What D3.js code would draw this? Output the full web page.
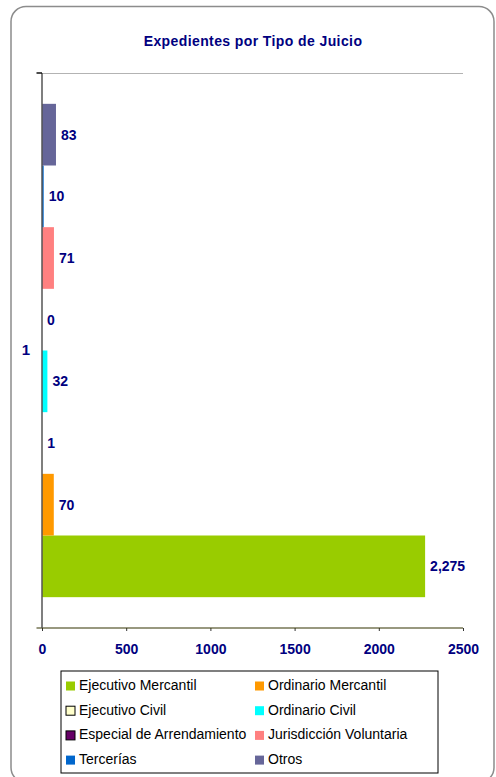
<!DOCTYPE html>
<html>
<head>
<meta charset="utf-8">
<script src="https://cdn.jsdelivr.net/npm/d3@7"></script>
<style>
  body { margin: 0; background: #fff; }
  text { font-family: "Liberation Sans", Arial, sans-serif; }
</style>
</head>
<body>
<div id="chart"></div>
<script>
// data
const CATEGORIES = ["1"];
const SERIES = ["Ejecutivo Mercantil", "Ordinario Mercantil", "Ejecutivo Civil", "Ordinario Civil",
                "Especial de Arrendamiento", "Jurisdicción Voluntaria", "Tercerías", "Otros"];
const VALUES = [2275, 70, 1, 32, 0, 71, 10, 83];
const COLORS = ["#99cc00", "#ff9900", "#ffffcc", "#00ffff", "#660066", "#ff8080", "#0066cc", "#666699"];
const OUTLINED = ["Ejecutivo Civil", "Especial de Arrendamiento"];
const X_TICKS = [0, 500, 1000, 1500, 2000, 2500];

const WIDTH = 496, HEIGHT = 777;
const PLOT = { left: 42, right: 463, top: 73, bottom: 628 };
const NAVY = "#000080";

const svg = d3.select("#chart")
    .append("svg")
    .attr("width", WIDTH)
    .attr("height", HEIGHT);

// rounded frame
svg.append("rect")
    .attr("x", 11).attr("y", 6.5)
    .attr("width", 483).attr("height", 776)
    .attr("rx", 15).attr("ry", 15)
    .attr("fill", "#fff")
    .attr("stroke", "#8c8c8c")
    .attr("stroke-width", 1.5);

// title
svg.append("text")
    .attr("x", 253).attr("y", 46)
    .attr("text-anchor", "middle")
    .attr("font-size", 14).attr("font-weight", "bold")
    .attr("letter-spacing", 0.4)
    .attr("fill", NAVY)
    .text("Expedientes por Tipo de Juicio");

const x = d3.scaleLinear()
    .domain([0, 2500])
    .range([PLOT.left, PLOT.right]);

const y = d3.scaleBand()
    .domain(CATEGORIES)
    .range([PLOT.top, PLOT.bottom])
    .paddingInner(0)
    .paddingOuter(0.0625);

// first series sits at the bottom
const ySeries = d3.scaleBand()
    .domain(SERIES.slice().reverse())
    .range([0, y.bandwidth()]);

// plot top border
svg.append("line")
    .attr("x1", PLOT.left).attr("x2", PLOT.right)
    .attr("y1", PLOT.top + 0.5).attr("y2", PLOT.top + 0.5)
    .attr("stroke", "#b3b3b3");

const rows = SERIES.map((s, i) => ({ cat: CATEGORIES[0], name: s, value: VALUES[i], color: COLORS[i] }));

const g = svg.append("g");

g.selectAll("rect.bar")
    .data(rows)
    .enter().append("rect")
    .attr("class", "bar")
    .attr("x", x(0))
    .attr("y", d => y(d.cat) + ySeries(d.name))
    .attr("width", d => x(d.value) - x(0))
    .attr("height", ySeries.bandwidth())
    .attr("fill", d => d.color);

g.selectAll("text.val")
    .data(rows)
    .enter().append("text")
    .attr("class", "val")
    .attr("x", d => x(d.value) + 5)
    .attr("y", d => y(d.cat) + ySeries(d.name) + ySeries.bandwidth() / 2)
    .attr("dy", "0.36em")
    .attr("font-size", 14).attr("font-weight", "bold")
    .attr("fill", NAVY)
    .text(d => d3.format(",")(d.value));

// x axis
const xAxis = svg.append("g")
    .attr("transform", `translate(0,${PLOT.bottom})`)
    .call(d3.axisBottom(x).tickValues(X_TICKS).tickSize(3).tickPadding(13).tickFormat(d3.format("d")));
xAxis.select(".domain").remove();
xAxis.selectAll(".tick line").attr("stroke", "#333");
xAxis.selectAll("text")
    .attr("font-size", 14).attr("font-weight", "bold")
    .attr("font-family", "Liberation Sans, Arial, sans-serif")
    .attr("fill", NAVY);
svg.append("line")
    .attr("x1", 36.5).attr("x2", PLOT.right)
    .attr("y1", PLOT.bottom).attr("y2", PLOT.bottom)
    .attr("stroke", "#333300").attr("stroke-width", 1.2);

// y axis
const yAxis = svg.append("g")
    .attr("transform", `translate(${PLOT.left},0)`)
    .call(d3.axisLeft(y).tickSize(0).tickPadding(12));
yAxis.select(".domain").remove();
yAxis.selectAll("text")
    .attr("font-size", 15).attr("font-weight", "bold")
    .attr("font-family", "Liberation Sans, Arial, sans-serif")
    .attr("fill", NAVY);
svg.append("line")
    .attr("x1", PLOT.left).attr("x2", PLOT.left)
    .attr("y1", PLOT.top).attr("y2", PLOT.bottom)
    .attr("stroke", "#555").attr("stroke-width", 1.5);
svg.append("line")
    .attr("x1", 36.5).attr("x2", PLOT.left)
    .attr("y1", PLOT.top).attr("y2", PLOT.top)
    .attr("stroke", "#111").attr("stroke-width", 1.5);

// legend
const legend = svg.append("g");
legend.append("rect")
    .attr("x", 61).attr("y", 671)
    .attr("width", 377).attr("height", 102)
    .attr("fill", "#fff")
    .attr("stroke", "#000");

const items = legend.selectAll("g.item")
    .data(rows)
    .enter().append("g")
    .attr("class", "item")
    .attr("transform", (d, i) => `translate(${i % 2 === 0 ? 66 : 255},${690 + Math.floor(i / 2) * 24.7})`);

items.append("rect")
    .attr("x", 0).attr("y", -8.5)
    .attr("width", 9).attr("height", 9)
    .attr("fill", d => d.color)
    .attr("stroke", d => OUTLINED.includes(d.name) ? "#000" : "none");

items.append("text")
    .attr("x", 13).attr("y", 0)
    .attr("font-size", 14)
    .attr("fill", "#000")
    .text(d => d.name);
</script>
</body>
</html>
